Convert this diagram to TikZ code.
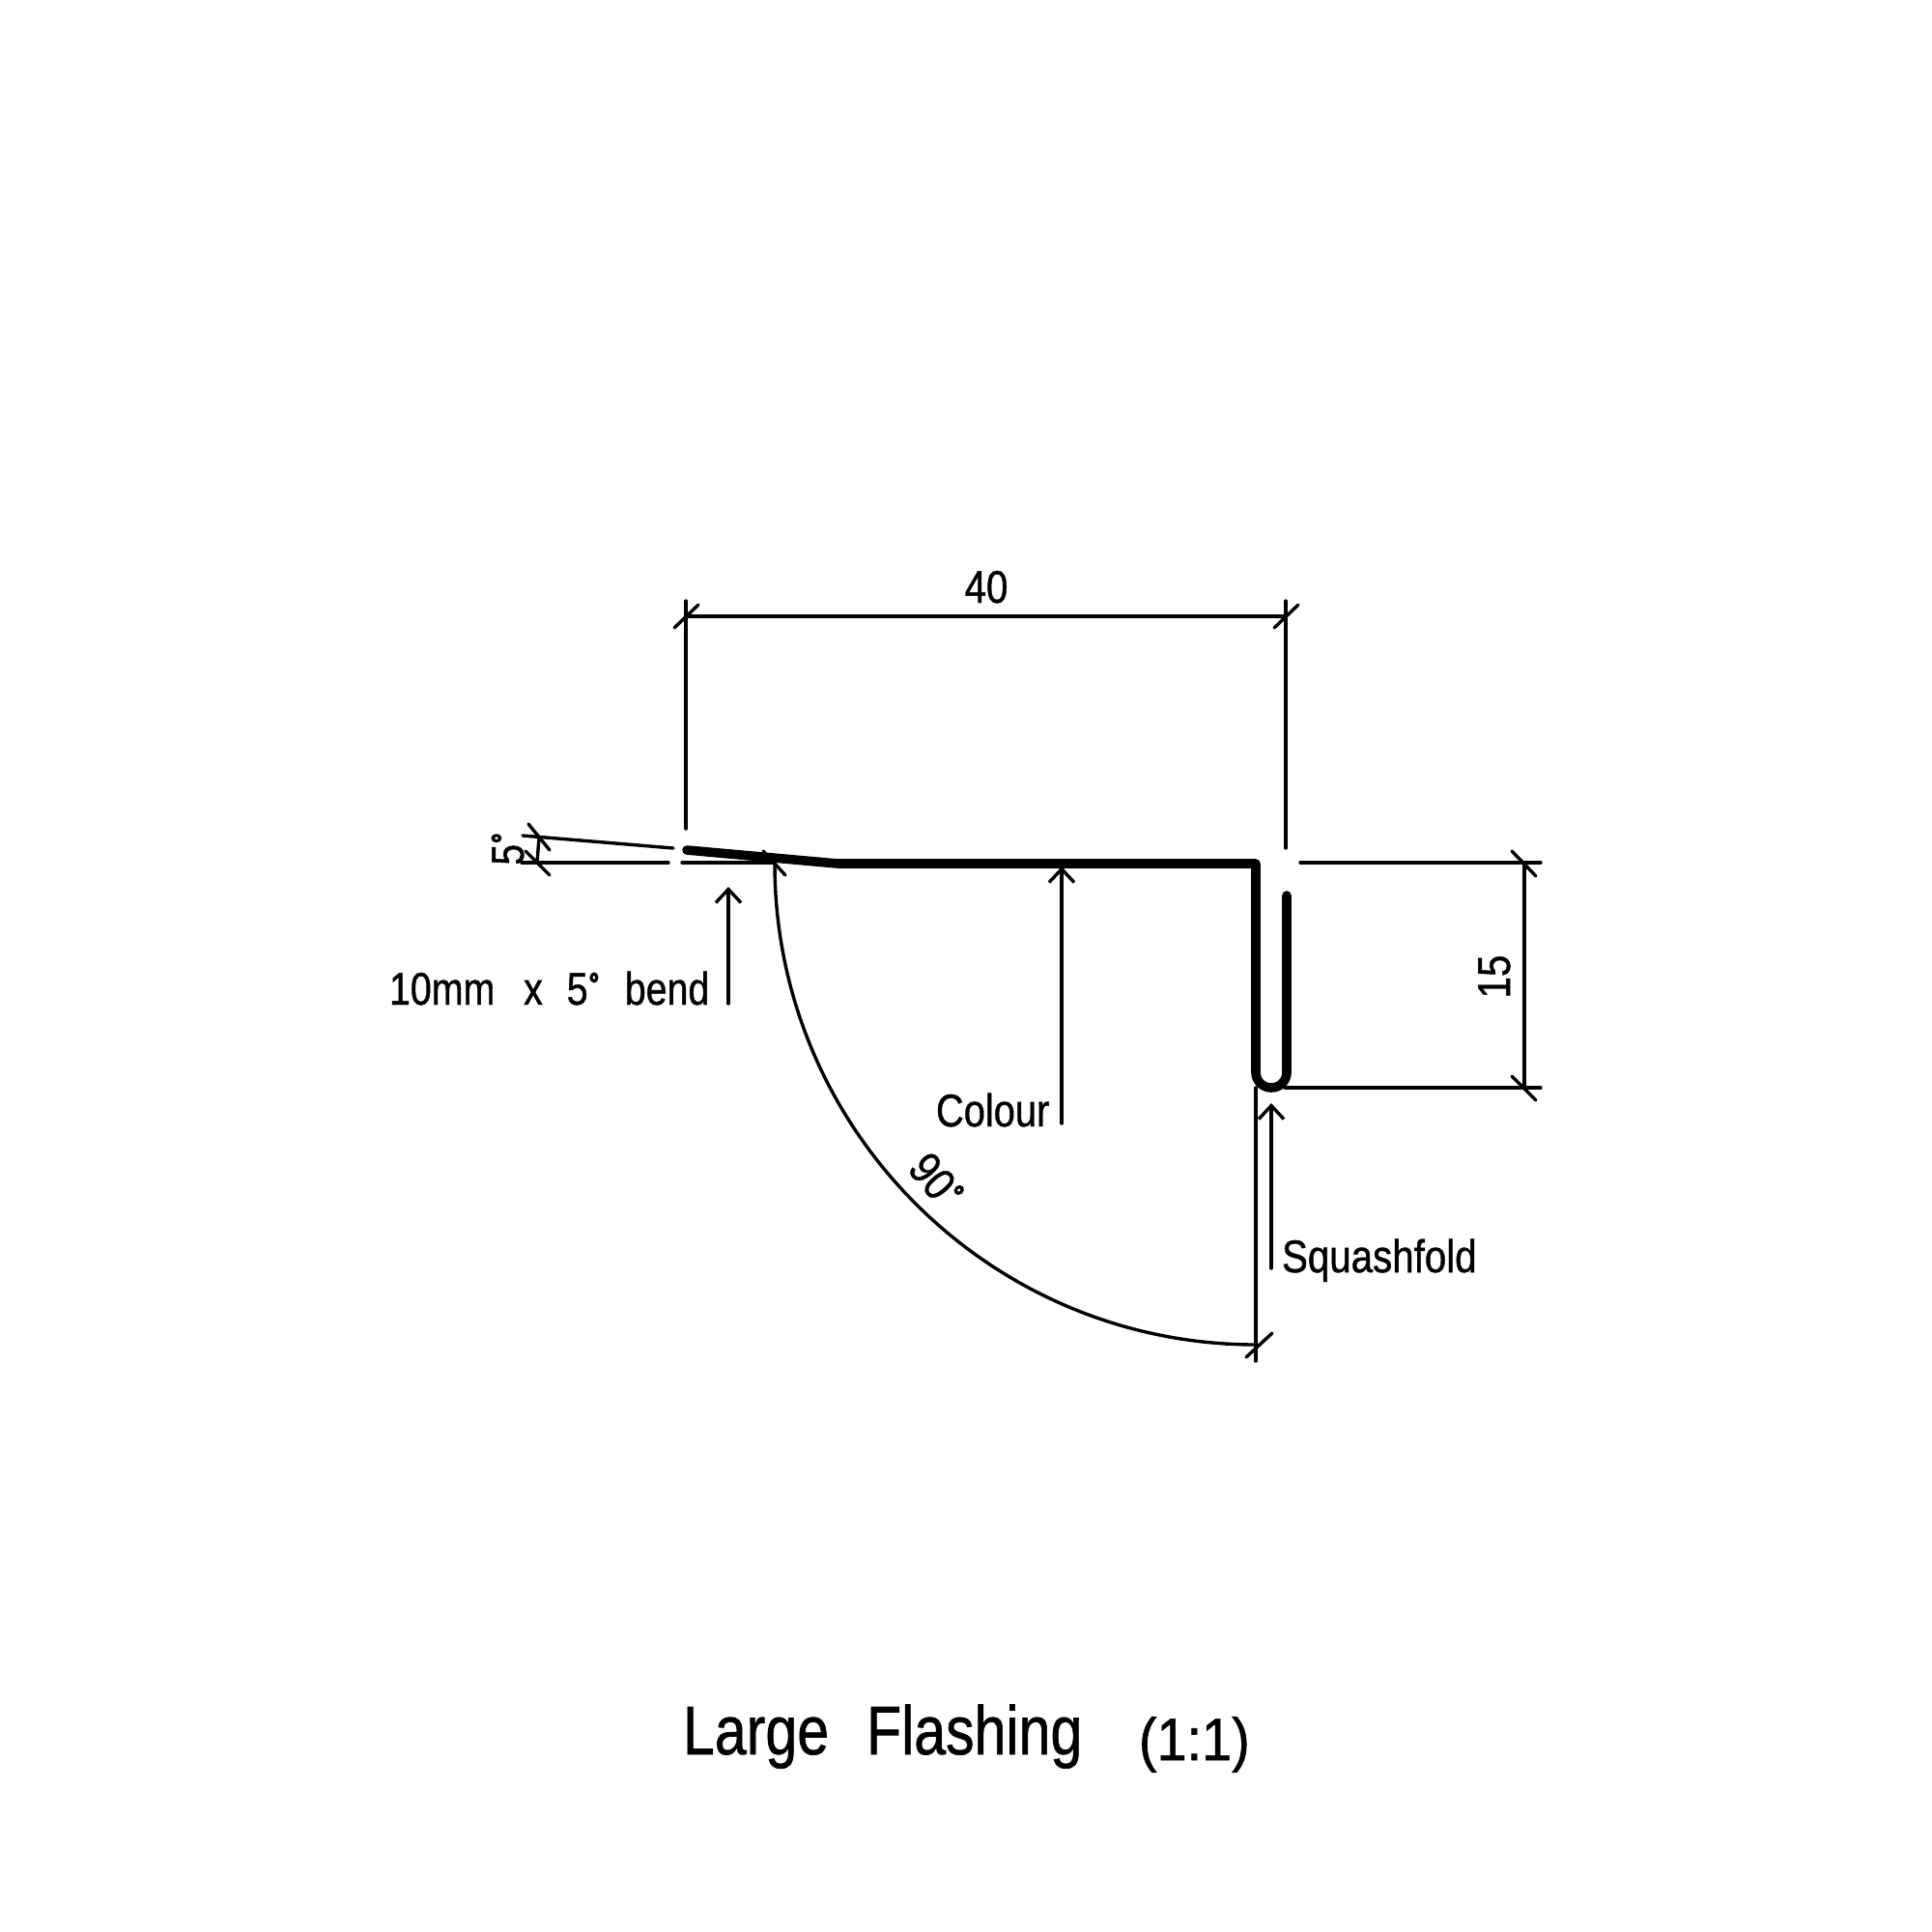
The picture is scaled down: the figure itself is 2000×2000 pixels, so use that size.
\documentclass[tikz,border=0pt]{standalone}
\usepackage{fontspec}
\usepackage{graphicx}
\setmainfont{Liberation Sans}[FakeBold=1]
\newfontface\degface{Liberation Sans}[FakeBold=6]
\usetikzlibrary{arrows.meta,calc}
\newcommand{\squeezed}[2][0.82]{\scalebox{#1}[1]{#2}}
\newcommand{\degdot}{\kern0.6pt\raisebox{5.1pt}{\fontsize{16pt}{17pt}\degface °}}
\tikzset{
  thin line/.style={line width=1.7pt,line cap=round,black},
  sheet/.style={line width=4.8pt,line cap=round,line join=round,black},
  leader/.style={thin line,-{Straight Barb[length=7pt,width=13pt,line width=1.7pt]}},
  lab/.style={inner sep=0pt,outer sep=0pt,font=\fontsize{23.7pt}{26pt}\selectfont},
  titlelab/.style={inner sep=0pt,outer sep=0pt,font=\fontsize{35.6pt}{38pt}\selectfont},
  scalelab/.style={inner sep=0pt,outer sep=0pt,font=\fontsize{31pt}{33pt}\selectfont},
  ticks/.style={thin line}
}
\begin{document}
\begin{tikzpicture}[x=0.5pt,y=-0.5pt]
\useasboundingbox[fill=white] (0,0) rectangle (2000,2000);
% named points
\coordinate (tipL) at (711,880);
\coordinate (bend) at (867,894);
\coordinate (corner) at (1300,894);
\coordinate (foldL) at (1300,1110);
\coordinate (foldB) at (1316,1126);
\coordinate (foldR) at (1332,1110);
\coordinate (foldEnd) at (1332,927);
\coordinate (d40L) at (710,638);
\coordinate (d40R) at (1331,638);
\coordinate (d15T) at (1578,893);
\coordinate (d15B) at (1578,1126);
\coordinate (a90S) at (802,894);
\coordinate (a90E) at (1300,1392);
\coordinate (d5T) at (558,867);
\coordinate (d5B) at (556,893);

% 40 dimension
\draw[thin line] (710,622) -- (710,858);
\draw[thin line] (1331,622) -- (1331,878);
\draw[thin line] (d40L) -- (d40R);
\draw[ticks] ($(d40L)+(-12,12)$) -- ($(d40L)+(13,-12)$);
\draw[ticks] ($(d40R)+(-12,12)$) -- ($(d40R)+(13,-12)$);
\node[lab,anchor=base] (t40) at (1021,624) {\squeezed[0.85]{40}};

% 15 dimension
\draw[thin line] (1346,893) -- (1595,893);
\draw[thin line] (1330,1126) -- (1595,1126);
\draw[thin line] (d15T) -- (d15B);
\draw[ticks] ($(d15T)+(-13,-12)$) -- ($(d15T)+(12,14)$);
\draw[ticks] ($(d15B)+(-13,-12)$) -- ($(d15B)+(12,13)$);
\node[lab,anchor=base,rotate=90] (t15) at (1563,1011) {\squeezed[0.85]{15}};

% 5 degree dimension
\draw[thin line] (541,865) -- (697,878);
\draw[thin line] (540,893) -- (692,893);
\draw[thin line] (706,893) -- (800,893);
\draw[thin line] (d5T) -- (d5B);
\draw[ticks] (547,853) -- (569,880);
\draw[ticks] (544,881) -- (569,906);
\node[lab,anchor=base,rotate=90] (t5) at (542,879) {\squeezed{5\degdot}};

% 90 degree arc
\draw[thin line] (a90S) .. controls (802,1169) and (1025,1392) .. (a90E);
\draw[ticks] (790,881) -- (813,906);
\draw[thin line] (1300,1126) -- (1300,1409);
\draw[ticks] (1290,1405) -- (1317,1380);
\node[lab,rotate=-50] (t90) at (969,1222) {\squeezed[0.85]{90\degdot}};

% leaders
\coordinate (bendTail) at (754,1039);
\coordinate (bendTip) at (754,918);
\coordinate (colTail) at (1099,1163);
\coordinate (colTip) at (1099,897);
\coordinate (sqTail) at (1316,1313);
\coordinate (sqTip) at (1316,1142);
\draw[leader] (bendTail) -- (bendTip);
\draw[leader] (colTail) -- (colTip);
\draw[leader] (sqTail) -- (sqTip);

% sheet profile
\draw[sheet] (tipL) -- (bend) -- (corner) -- (foldL)
  .. controls (1300,1119) and (1307,1126) .. (foldB)
  .. controls (1325,1126) and (1332,1119) .. (foldR) -- (foldEnd);

% labels
\node[lab,anchor=base west] (tbend) at (403,1040) {\squeezed[0.83]{10mm\hspace{18pt}x\hspace{15pt}5\degdot\hspace{16pt}bend}};
\node[lab,anchor=base west] (tcol) at (969,1166) {\squeezed[0.84]{Colour}};
\node[lab,anchor=base west] (tsq) at (1327,1317) {\squeezed[0.85]{Squashfold}};
\node[titlelab,anchor=base west] (tlarge) at (707,1816) {\squeezed[0.83]{Large}};
\node[titlelab,anchor=base west] (tflash) at (897,1816) {\squeezed[0.83]{Flashing}};
\node[scalelab,anchor=base west] (tscale) at (1179,1822) {\squeezed[0.9]{(1:1)}};
\end{tikzpicture}
\end{document}
